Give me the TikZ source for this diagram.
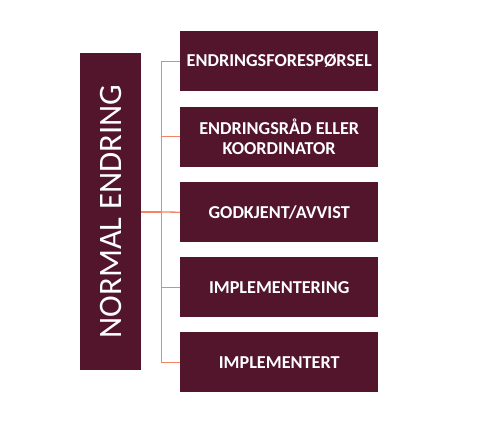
\documentclass[tikz,border=0pt]{standalone}
\usepackage{fontspec}
\setmainfont{Carlito}
\definecolor{maroon}{HTML}{52152B}
\definecolor{linecol}{HTML}{F4845F}
\begin{document}
\begin{tikzpicture}[x=1pt,y=-1pt,
  box/.style={fill=maroon,draw=none,text=white,minimum width=198pt,minimum height=60pt,inner sep=0pt,align=center,font=\fontsize{18.2}{19.5}\selectfont\bfseries,anchor=north west},
  conn/.style={draw=linecol,line width=1.3pt}]
\useasboundingbox (0,0) rectangle (479,434);
\node[fill=maroon,minimum width=61pt,minimum height=317pt,inner sep=0pt,anchor=north west] (main) at (80,53) {};
\node[rotate=90,text=white,font=\fontsize{32.7}{35}\selectfont] (mainlbl) at (main.center) {NORMAL ENDRING};
\node[box] (b1) at (180,31) {ENDRINGSFORESPØRSEL};
\node[box] (b2) at (180,106.5) {ENDRINGSRÅD ELLER\\KOORDINATOR};
\node[box] (b3) at (180,182) {GODKJENT/AVVIST};
\node[box] (b4) at (180,257) {IMPLEMENTERING};
\node[box] (b5) at (180,332) {IMPLEMENTERT};
\coordinate (j) at (161.5,212);
\draw[conn] (main.east |- j) -- (j);
\draw[conn] (b1.west) -| (j);
\draw[conn] (b5.west) -| (j);
\draw[conn] (b2.west) -- (b2.west -| j);
\draw[conn] (b3.west) -- (j);
\draw[conn] (b4.west) -- (b4.west -| j);
\end{tikzpicture}
\end{document}
